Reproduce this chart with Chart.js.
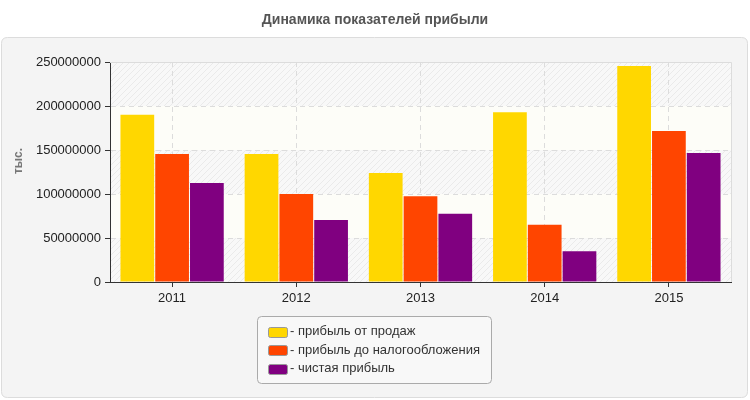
<!DOCTYPE html>
<html>
<head>
<meta charset="utf-8">
<script src="https://cdn.jsdelivr.net/npm/chart.js@4"></script>
<style>
html, body { margin: 0; padding: 0; background: #fff; }
#wrap { width: 750px; height: 400px; }
</style>
</head>
<body>
<div id="wrap"><canvas id="profitChart" width="750" height="400"></canvas></div>
<script>
// Data
const years = ['2011', '2012', '2013', '2014', '2015'];
const salesProfit = [190000000, 145500000, 124000000, 193000000, 245500000];
const pretaxProfit = [145500000, 100000000, 97500000, 65000000, 171500000];
const netProfit = [112500000, 70500000, 77500000, 35000000, 146500000];
const seriesNames = ['- прибыль от продаж', '- прибыль до налогообложения', '- чистая прибыль'];
const seriesColors = ['#FFD700', '#FF4500', '#800080'];
const yTicks = [0, 50000000, 100000000, 150000000, 200000000, 250000000];
const chartTitle = 'Динамика показателей прибыли';
const yTitle = 'тыс.';

const FONT = '"Liberation Sans", Arial, sans-serif';

function roundRect(ctx, x, y, w, h, r) {
    ctx.beginPath();
    ctx.moveTo(x + r, y);
    ctx.lineTo(x + w - r, y);
    ctx.quadraticCurveTo(x + w, y, x + w, y + r);
    ctx.lineTo(x + w, y + h - r);
    ctx.quadraticCurveTo(x + w, y + h, x + w - r, y + h);
    ctx.lineTo(x + r, y + h);
    ctx.quadraticCurveTo(x, y + h, x, y + h - r);
    ctx.lineTo(x, y + r);
    ctx.quadraticCurveTo(x, y, x + r, y);
    ctx.closePath();
}

// Hatch pattern for alternating plot bands
function makeHatch(ctx) {
    const c = document.createElement('canvas');
    c.width = 6; c.height = 6;
    const p = c.getContext('2d');
    p.fillStyle = '#f8f8f8';
    p.fillRect(0, 0, 6, 6);
    p.strokeStyle = '#eaeaea';
    p.lineWidth = 1;
    p.beginPath();
    p.moveTo(-1, 7); p.lineTo(7, -1);
    p.moveTo(-1, 1); p.lineTo(1, -1);
    p.moveTo(5, 7); p.lineTo(7, 5);
    p.stroke();
    return ctx.createPattern(c, 'repeat');
}

const framePlugin = {
    id: 'frame',
    beforeDraw(chart) {
        const ctx = chart.ctx;
        const area = chart.chartArea;
        const y = chart.scales.y;
        ctx.save();
        ctx.fillStyle = '#fff';
        ctx.fillRect(0, 0, chart.width, chart.height);

        // title
        ctx.fillStyle = '#555';
        ctx.font = 'bold 14px ' + FONT;
        ctx.textAlign = 'center';
        ctx.textBaseline = 'middle';
        ctx.fillText(chartTitle, 375, 20);

        // panel
        roundRect(ctx, 1.5, 37.5, 746, 360, 6);
        ctx.fillStyle = '#f4f4f4';
        ctx.fill();
        ctx.strokeStyle = '#dcdcdc';
        ctx.lineWidth = 1;
        ctx.stroke();

        // bands
        const hatch = makeHatch(ctx);
        for (let i = 0; i < yTicks.length - 1; i++) {
            const top = y.getPixelForValue(yTicks[i + 1]);
            const bottom = y.getPixelForValue(yTicks[i]);
            ctx.fillStyle = i % 2 === 0 ? hatch : '#fdfdf8';
            ctx.fillRect(area.left, top, area.right - area.left, bottom - top);
        }

        // y axis title
        ctx.translate(19, 161);
        ctx.rotate(-Math.PI / 2);
        ctx.fillStyle = '#777';
        ctx.font = 'bold 12px ' + FONT;
        ctx.fillText(yTitle, 0, 0);
        ctx.restore();
    },
    afterDraw(chart) {
        const ctx = chart.ctx;
        const area = chart.chartArea;
        ctx.save();
        // top and right plot border
        ctx.strokeStyle = '#dcdcdc';
        ctx.lineWidth = 1;
        ctx.beginPath();
        ctx.moveTo(area.left, Math.round(area.top) + 0.5);
        ctx.lineTo(Math.round(area.right) + 0.5, Math.round(area.top) + 0.5);
        ctx.lineTo(Math.round(area.right) + 0.5, area.bottom);
        ctx.stroke();

        // legend
        roundRect(ctx, 257.5, 316.5, 234, 67, 4);
        ctx.fillStyle = '#f8f8f8';
        ctx.fill();
        ctx.strokeStyle = '#aaa';
        ctx.stroke();
        ctx.font = '13px ' + FONT;
        ctx.textAlign = 'left';
        ctx.textBaseline = 'middle';
        chart.data.datasets.forEach((ds, i) => {
            const cy = 331.5 + i * 18.5;
            roundRect(ctx, 268.5, Math.round(cy - 5) + 0.5, 19, 10, 2);
            ctx.fillStyle = ds.backgroundColor;
            ctx.fill();
            ctx.strokeStyle = '#999';
            ctx.stroke();
            ctx.fillStyle = '#333';
            ctx.fillText(ds.label, 290, cy);
        });
        ctx.restore();
    }
};

const ctx = document.getElementById('profitChart').getContext('2d');
new Chart(ctx, {
    type: 'bar',
    data: {
        labels: years,
        datasets: [salesProfit, pretaxProfit, netProfit].map((values, i) => ({
            label: seriesNames[i],
            data: values,
            backgroundColor: seriesColors[i],
            borderWidth: 0,
            categoryPercentage: 0.84,
            barPercentage: 0.97
        }))
    },
    options: {
        responsive: false,
        animation: false,
        layout: { padding: { top: 62, right: 19, bottom: 0, left: 0 } },
        plugins: {
            legend: { display: false },
            title: { display: false },
            tooltip: { enabled: false }
        },
        scales: {
            x: {
                afterFit(scale) { scale.height = 118; },
                grid: {
                    offset: false,
                    color: '#dcdcdc',
                    tickColor: '#333',
                    tickLength: 5
                },
                border: { color: '#333', dash: [5, 4] },
                ticks: { color: '#222', font: { family: FONT, size: 13 }, padding: 4 }
            },
            y: {
                min: 0,
                max: 250000000,
                afterFit(scale) { scale.width = 110; },
                afterBuildTicks(scale) { scale.ticks = yTicks.map(v => ({ value: v })); },
                grid: {
                    color: '#dcdcdc',
                    tickColor: '#333',
                    tickLength: 5
                },
                border: { color: '#333', dash: [5, 4] },
                ticks: {
                    color: '#222',
                    font: { family: FONT, size: 13 },
                    padding: 4,
                    callback: v => String(v)
                }
            }
        }
    },
    plugins: [framePlugin]
});
</script>
</body>
</html>
